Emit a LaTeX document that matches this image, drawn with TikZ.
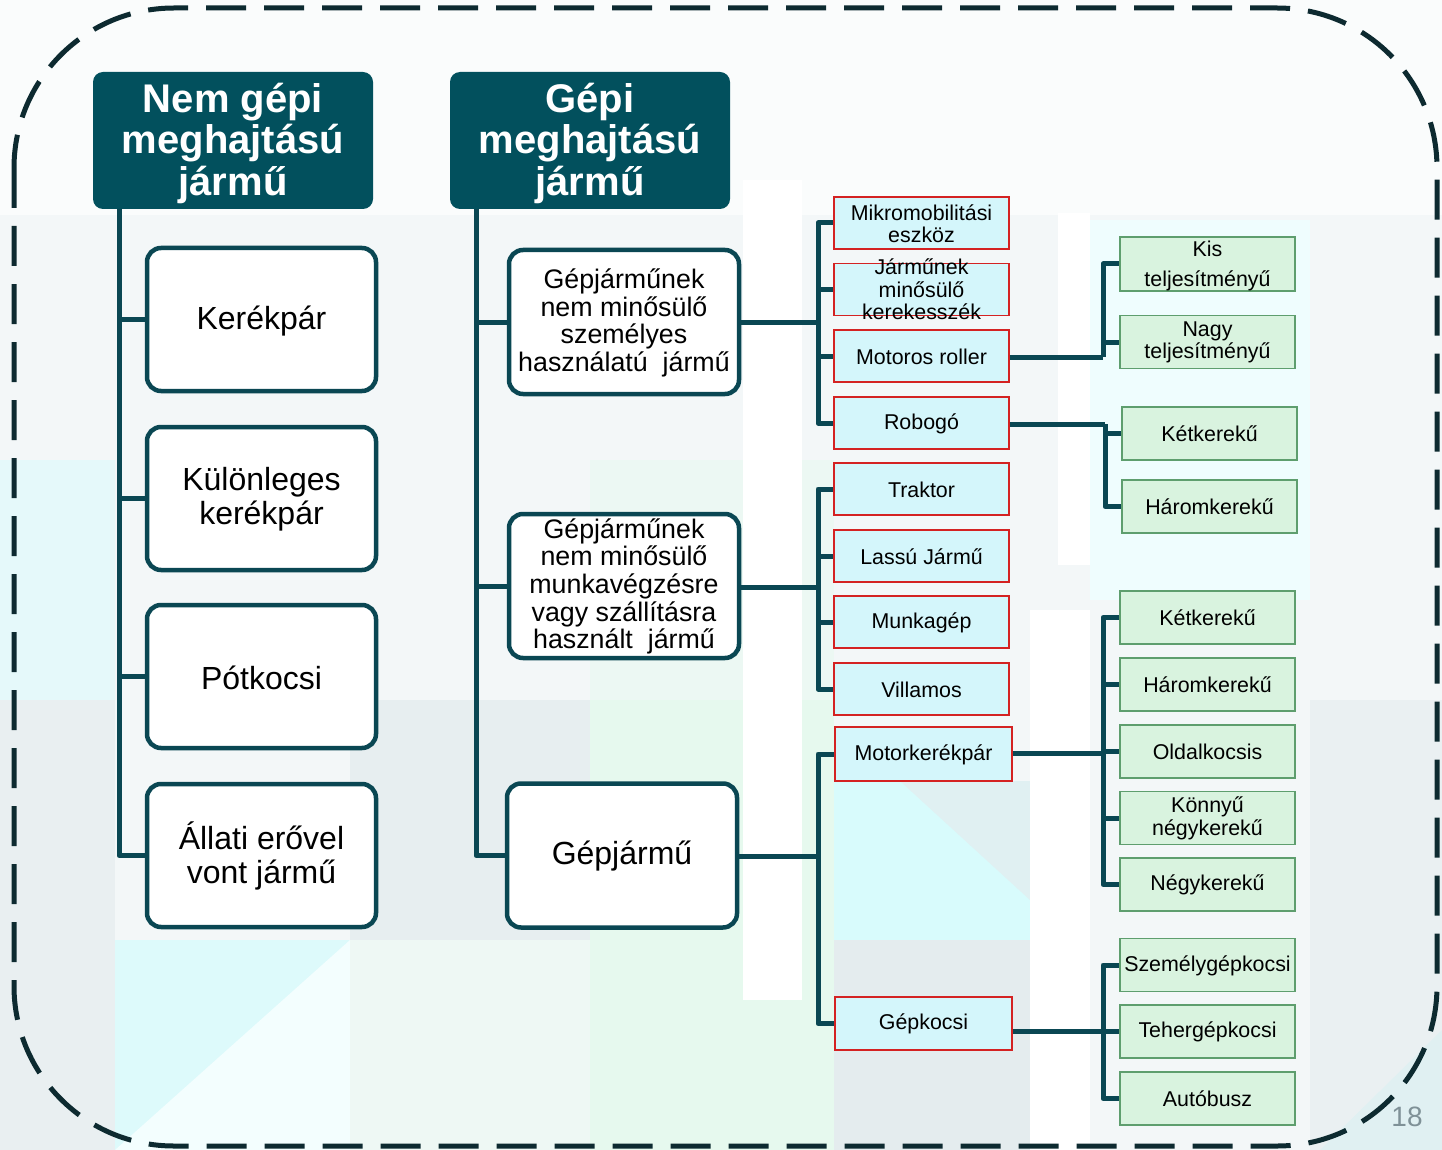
\documentclass[tikz,border=0pt]{standalone}
\usepackage{fontspec}
\setmainfont{Liberation Sans}
\definecolor{hdrC}{HTML}{02505D}
\definecolor{lineC}{HTML}{0A4753}
\definecolor{redC}{HTML}{D42222}
\definecolor{cyanC}{HTML}{D4F6FB}
\definecolor{greenC}{HTML}{5E9E6E}
\definecolor{greenF}{HTML}{D9F3DF}
\definecolor{dashC}{HTML}{0D2A30}
\definecolor{bgA}{HTML}{F3F7F8}
\definecolor{bgCyan}{HTML}{D8FBFC}
\definecolor{bgGray}{HTML}{E4ECEE}
\definecolor{bgGreen}{HTML}{E6F9EE}
\definecolor{numC}{HTML}{7F9197}
\begin{document}
\begin{tikzpicture}[x=1pt,y=-1pt,
  conn/.style={line width=5pt, draw=lineC, line join=round},
  hdr/.style={fill=hdrC, rounded corners=10pt, minimum width=280pt, minimum height=137pt, inner sep=0pt},
  lbox/.style={draw=lineC, line width=4.5pt, fill=white, rounded corners=14pt, minimum width=229pt, minimum height=143pt, inner sep=0pt},
  mbox/.style={draw=lineC, line width=4.5pt, fill=white, rounded corners=14pt, minimum width=230pt, minimum height=144pt, inner sep=0pt},
  cbox/.style={draw=redC, line width=1.3pt, fill=cyanC, minimum width=175pt, minimum height=52pt, inner sep=0pt},
  gbox/.style={draw=greenC, line width=1.5pt, fill=greenF, minimum width=175pt, minimum height=53pt, inner sep=0pt},
  txt/.style={align=center, font=\fontsize{21.4}{22.5}\selectfont, inner sep=0pt},
  ht/.style={text=white, align=center, font=\fontsize{40}{41.5}\selectfont\bfseries, inner sep=0pt},
  lt/.style={align=center, font=\fontsize{32}{34}\selectfont, inner sep=0pt},
  mt/.style={align=center, font=\fontsize{26.8}{27.6}\selectfont, inner sep=0pt}
]
\useasboundingbox (0,0) rectangle (1442,1150);
% background
\fill[bgA] (0,0) rectangle (1442,1150);
\fill[white!60!bgA] (0,0) rectangle (1442,215);
\fill[bgCyan!50!bgA] (0,460) rectangle (115,700);
\fill[bgGray!70!bgA] (0,700) -- (115,700) -- (115,1150) -- (0,1150) -- cycle;
\fill[bgCyan!80!bgA] (115,940) rectangle (350,1150);
\fill[bgCyan!30!white] (115,1150) -- (350,940) -- (350,1150) -- cycle;
\fill[bgGray!80!bgA] (350,700) rectangle (590,940);
\fill[bgGreen!40!bgA] (350,940) rectangle (590,1150);
\fill[bgGreen] (590,700) rectangle (834,1150);
\fill[bgGreen!50!bgA] (590,460) rectangle (834,700);
\fill[bgCyan] (834,781) rectangle (1030,940);
\fill[bgGray!70!bgCyan] (900,781) -- (1030,781) -- (1030,900) -- cycle;
\fill[bgGray] (834,940) rectangle (1030,1150);
\fill[white] (743,180) rectangle (802,1000);
\fill[white] (1030,610) rectangle (1090,1150);
\fill[white] (1058,213) rectangle (1090,565);
\fill[bgCyan!40!white] (1090,220) rectangle (1310,600);
\fill[bgGray!60!bgA] (1310,700) rectangle (1442,1150);
\fill[bgGray!70!bgCyan] (1320,1150) -- (1442,1030) -- (1442,1150) -- cycle;
% dashed frame
\draw[line width=5pt, dashC, dash pattern=on 40pt off 18pt, rounded corners=160pt] (14,8) rectangle (1437,1146);
\node[text=numC, font=\fontsize{28}{30}\selectfont, inner sep=0pt] (pg) at (1407,1117) {18};

% headers
\node[hdr] (h1) at (233,140.5) {};
\node[ht] (h1t) at (233,143) {Nem gépi\\meghajtású\\jármű};
\node[hdr] (h2) at (590,140.5) {};
\node[ht] (h2t) at (590,143) {Gépi\\meghajtású\\jármű};

% left column
\node[lbox] (l1) at (261.5,319.5) {};
\node[lbox] (l2) at (261.5,498.5) {};
\node[lbox] (l3) at (261.5,676.5) {};
\node[lbox] (l4) at (261.5,855.5) {};
\node[lt] (l1t) at (261.5,321) {Kerékpár};
\node[lt] (l2t) at (261.5,499) {Különleges\\kerékpár};
\node[lt] (l3t) at (261.5,677.5) {Pótkocsi};
\node[lt] (l4t) at (261.5,855.5) {Állati erővel\\vont jármű};
\coordinate (ltr) at (119,209);
\draw[conn] (ltr) |- (l1.west);
\draw[conn] (ltr) |- (l2.west);
\draw[conn] (ltr) |- (l3.west);
\draw[conn] (ltr) |- (l4.west);

% middle column
\node[mbox] (m1) at (624,322) {};
\node[mbox] (m2) at (624,586) {};
\node[mbox] (m3) at (622,855.5) {};
\node[mt] (m1t) at (624,323) {Gépjárműnek\\nem minősülő\\személyes\\használatú\ \ jármű};
\node[mt] (m2t) at (624,586.5) {Gépjárműnek\\nem minősülő\\munkavégzésre\\vagy szállításra\\használt\ \ jármű};
\node[lt] (m3t) at (622,856.5) {Gépjármű};
\coordinate (mtr) at (476,209);
\draw[conn] (mtr) |- (m1.west);
\draw[conn] (mtr) |- (m2.west);
\draw[conn] (mtr) |- (m3.west);

% third column
\node[cbox] (c1) at (921.5,223) {};
\node[cbox] (c2) at (921.5,289.5) {};
\node[cbox] (c3) at (921.5,356) {};
\node[cbox] (c4) at (921.5,423) {};
\node[cbox] (c5) at (921.5,489) {};
\node[cbox] (c6) at (921.5,556) {};
\node[cbox] (c7) at (921.5,622) {};
\node[cbox] (c8) at (921.5,689) {};
\node[cbox, minimum width=177pt, minimum height=54pt] (c9) at (923.5,754) {};
\node[cbox, minimum width=177pt, minimum height=53pt] (c10) at (923.5,1023.5) {};
\node[txt] (c1t) at ([yshift=-0.5pt]c1) {Mikromobilitási\\eszköz};
\node[txt] (c2t) at ([yshift=0pt]c2) {Járműnek\\minősülő\\kerekesszék};
\node[txt] (c3t) at ([yshift=-0.5pt]c3) {Motoros roller};
\node[txt] (c4t) at ([yshift=-0.5pt]c4) {Robogó};
\node[txt] (c5t) at ([yshift=-0.5pt]c5) {Traktor};
\node[txt] (c6t) at ([yshift=-0.5pt]c6) {Lassú Jármű};
\node[txt] (c7t) at ([yshift=-0.5pt]c7) {Munkagép};
\node[txt] (c8t) at ([yshift=-0.5pt]c8) {Villamos};
\node[txt] (c9t) at ([yshift=-0.5pt]c9) {Motorkerékpár};
\node[txt] (c10t) at ([yshift=-0.5pt]c10) {Gépkocsi};

\coordinate (j1) at (818,322);
\draw[conn] (m1.east) -- (j1);
\foreach \c in {c1,c2,c3,c4} \draw[conn] (j1) |- (\c.west);
\coordinate (j2) at (818,587);
\draw[conn] (m2.east |- j2) -- (j2);
\foreach \c in {c5,c6,c7,c8} \draw[conn] (j2) |- (\c.west);
\coordinate (j3) at (818,856);
\draw[conn] (m3.east |- j3) -- (j3);
\foreach \c in {c9,c10} \draw[conn] (j3) |- (\c.west);

% fourth column
\node[gbox, minimum height=54pt] (g1) at (1207.5,264) {};
\node[gbox] (g2) at (1207.5,342) {};
\node[gbox] (g3) at (1209.5,433.5) {};
\node[gbox] (g4) at (1209.5,506.5) {};
\node[gbox] (g5) at (1207.5,617.5) {};
\node[gbox] (g6) at (1207.5,684.5) {};
\node[gbox] (g7) at (1207.5,751.5) {};
\node[gbox] (g8) at (1207.5,818) {};
\node[gbox] (g9) at (1207.5,884.5) {};
\node[gbox] (g10) at (1207.5,965) {};
\node[gbox] (g11) at (1207.5,1031.5) {};
\node[gbox] (g12) at (1207.5,1098.5) {};
\node[txt] (g1t) at ([yshift=-2pt]g1) {Kis\\[7.5pt]teljesítményű};
\node[txt] (g2t) at ([yshift=-0.5pt]g2) {Nagy\\teljesítményű};
\node[txt] (g3t) at ([yshift=-0.5pt]g3) {Kétkerekű};
\node[txt] (g4t) at ([yshift=-0.5pt]g4) {Háromkerekű};
\node[txt] (g5t) at ([yshift=-0.5pt]g5) {Kétkerekű};
\node[txt] (g6t) at ([yshift=-0.5pt]g6) {Háromkerekű};
\node[txt] (g7t) at ([yshift=-0.5pt]g7) {Oldalkocsis};
\node[txt] (g8t) at ([yshift=-0.5pt]g8) {Könnyű\\négykerekű};
\node[txt] (g9t) at ([yshift=-0.5pt]g9) {Négykerekű};
\node[txt] (g10t) at ([yshift=-0.5pt]g10) {Személygépkocsi};
\node[txt] (g11t) at ([yshift=-0.5pt]g11) {Tehergépkocsi};
\node[txt] (g12t) at ([yshift=-0.5pt]g12) {Autóbusz};

\coordinate (k1) at (1103,357);
\draw[conn] (c3.east |- k1) -- (k1);
\foreach \g in {g1,g2} \draw[conn] (k1) |- (\g.west);
\coordinate (k2) at (1105,424);
\draw[conn] (c4.east |- k2) -- (k2);
\foreach \g in {g3,g4} \draw[conn] (k2) |- (\g.west);
\coordinate (k3) at (1103,753);
\draw[conn] (c9.east |- k3) -- (k3);
\foreach \g in {g5,g6,g7,g8,g9} \draw[conn] (k3) |- (\g.west);
\coordinate (k4) at (1103,1031);
\draw[conn] (c10.east |- k4) -- (k4);
\foreach \g in {g10,g11,g12} \draw[conn] (k4) |- (\g.west);
\end{tikzpicture}
\end{document}
